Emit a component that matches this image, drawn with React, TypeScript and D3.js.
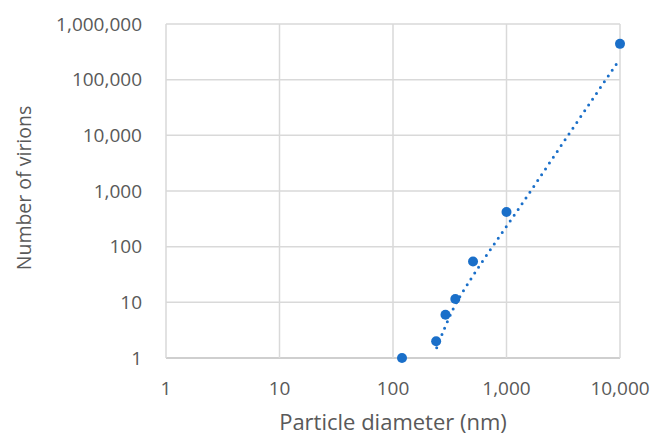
import React from 'react';
import * as d3 from 'd3';

// particle diameter (nm) vs number of virions, log-log
const diameters = [120, 240, 290, 354, 507, 1000, 10000];
const virions = [1, 2, 6, 11.5, 54, 420, 440000];

// dotted trendline (it bends a little at the low end)
const trendX = [242.7, 338, 484, 726, 1271, 3459, 10000];
const trendY = [1.53, 7.5, 26, 90, 470, 9750, 237000];

const xTicks = [1, 10, 100, 1000, 10000];
const yTicks = [1, 10, 100, 1000, 10000, 100000, 1000000];

const W = 655;
const H = 435;
const margin = { top: 24, right: 35, bottom: 77, left: 166 };
const font = '"Open Sans", "Noto Sans", sans-serif';
const blue = '#1a6fc9';
const textColor = '#595959';

export default function App() {
  const innerW = W - margin.left - margin.right;
  const innerH = H - margin.top - margin.bottom;

  const x = d3.scaleLog().domain([1, 10000]).range([0, innerW]);
  const y = d3.scaleLog().domain([1, 1000000]).range([innerH, 0]);
  const fmt = d3.format(',');

  const trendLine = d3
    .line<number>()
    .x((d) => x(d))
    .y((_, i) => y(trendY[i]))
    .curve(d3.curveMonotoneX);

  return (
    <div style={{ position: 'absolute', left: 0, top: 0 }}>
      <svg width={W} height={H} style={{ display: 'block', background: '#fff' }}>
        <g transform={`translate(${margin.left},${margin.top})`}>
          {/* gridlines */}
          {yTicks.map((t) => (
            <line key={'gy' + t} x1={0} x2={innerW} y1={y(t)} y2={y(t)}
              stroke={t === 1 ? '#bfbfbf' : '#d9d9d9'} strokeWidth={1.5} />
          ))}
          {xTicks.map((t) => (
            <line key={'gx' + t} x1={x(t)} x2={x(t)} y1={0} y2={innerH}
              stroke="#d9d9d9" strokeWidth={1.5} />
          ))}

          {/* trendline */}
          <path d={trendLine(trendX) || ''} fill="none" stroke={blue} strokeWidth={3}
            strokeLinecap="round" strokeDasharray="0 7" />

          {/* points */}
          {diameters.map((d, i) => (
            <circle key={'p' + i} cx={x(d)} cy={y(virions[i])} r={5} fill={blue} />
          ))}

          {/* y tick labels */}
          {yTicks.map((t) => (
            <text key={'ty' + t} x={-24} y={y(t)} dy="0.35em" textAnchor="end"
              fontFamily={font} fontSize={19} fill={textColor}>{fmt(t)}</text>
          ))}

          {/* x tick labels */}
          {xTicks.map((t) => (
            <text key={'tx' + t} x={x(t)} y={innerH + 37} textAnchor="middle"
              fontFamily={font} fontSize={19} fill={textColor}>{fmt(t)}</text>
          ))}

          {/* axis titles */}
          <text x={innerW / 2} y={innerH + 72} textAnchor="middle"
            fontFamily={font} fontSize={22} fill={textColor}>Particle diameter (nm)</text>
          <text transform={`translate(${-margin.left + 31},${innerH / 2 - 3}) rotate(-90)`}
            textAnchor="middle" fontFamily={font} fontSize={19.5} fill={textColor}>Number of virions</text>
        </g>
      </svg>
    </div>
  );
}
